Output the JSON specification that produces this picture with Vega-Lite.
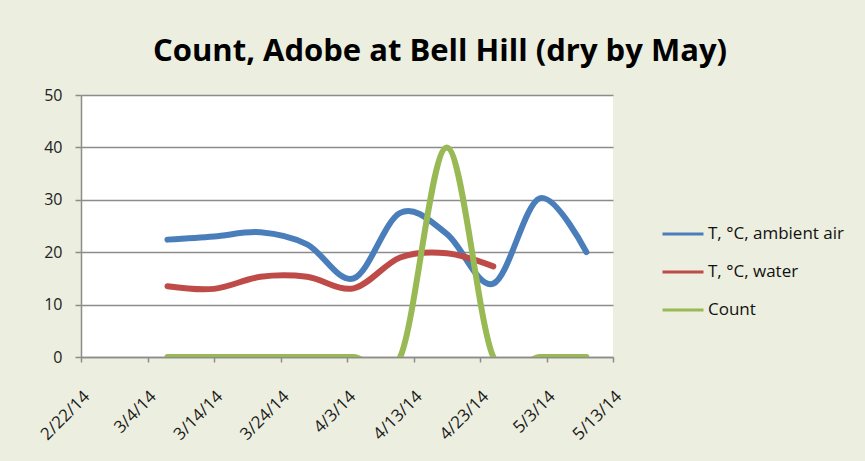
{
  "$schema": "https://vega.github.io/schema/vega-lite/v6.json",
  "width": 532,
  "height": 262,
  "autosize": {"type": "none"},
  "padding": {"left": 81, "top": 95, "right": 252, "bottom": 104},
  "background": "#ECEEDF",
  "title": {
    "text": "Count, Adobe at Bell Hill (dry by May)",
    "font": "Open Sans",
    "fontSize": 31,
    "fontWeight": "bold",
    "color": "#000000",
    "anchor": "middle",
    "dx": 93,
    "offset": 19
  },
  "data": {
    "values": [
      {"date": "2014-03-07", "series": "T, °C, ambient air", "value": 22.4},
      {"date": "2014-03-14", "series": "T, °C, ambient air", "value": 23.0},
      {"date": "2014-03-21", "series": "T, °C, ambient air", "value": 23.8},
      {"date": "2014-03-28", "series": "T, °C, ambient air", "value": 21.5},
      {"date": "2014-04-04", "series": "T, °C, ambient air", "value": 15.0},
      {"date": "2014-04-11", "series": "T, °C, ambient air", "value": 27.5},
      {"date": "2014-04-18", "series": "T, °C, ambient air", "value": 23.5},
      {"date": "2014-04-25", "series": "T, °C, ambient air", "value": 14.0},
      {"date": "2014-05-02", "series": "T, °C, ambient air", "value": 30.3},
      {"date": "2014-05-09", "series": "T, °C, ambient air", "value": 20.0},
      {"date": "2014-03-07", "series": "T, °C, water", "value": 13.5},
      {"date": "2014-03-14", "series": "T, °C, water", "value": 13.0},
      {"date": "2014-03-21", "series": "T, °C, water", "value": 15.3},
      {"date": "2014-03-28", "series": "T, °C, water", "value": 15.3},
      {"date": "2014-04-04", "series": "T, °C, water", "value": 13.1},
      {"date": "2014-04-11", "series": "T, °C, water", "value": 19.0},
      {"date": "2014-04-18", "series": "T, °C, water", "value": 19.8},
      {"date": "2014-04-25", "series": "T, °C, water", "value": 17.3},
      {"date": "2014-03-07", "series": "Count", "value": 0},
      {"date": "2014-03-14", "series": "Count", "value": 0},
      {"date": "2014-03-21", "series": "Count", "value": 0},
      {"date": "2014-03-28", "series": "Count", "value": 0},
      {"date": "2014-04-04", "series": "Count", "value": 0},
      {"date": "2014-04-11", "series": "Count", "value": 0},
      {"date": "2014-04-18", "series": "Count", "value": 40},
      {"date": "2014-04-25", "series": "Count", "value": 0},
      {"date": "2014-05-02", "series": "Count", "value": 0},
      {"date": "2014-05-09", "series": "Count", "value": 0}
    ]
  },
  "mark": {
    "type": "line",
    "interpolate": "cardinal",
    "tension": 0,
    "strokeWidth": 6,
    "strokeCap": "round",
    "strokeJoin": "round",
    "clip": true
  },
  "encoding": {
    "x": {
      "field": "date",
      "type": "temporal",
      "scale": {
        "type": "utc",
        "nice": false,
        "domain": [
          {"year": 2014, "month": 2, "date": 22, "utc": true},
          {"year": 2014, "month": 5, "date": 13, "utc": true}
        ]
      },
      "axis": {
        "title": null,
        "grid": false,
        "format": "%-m/%-d/%y",
        "values": [
          {"year": 2014, "month": 2, "date": 22, "utc": true},
          {"year": 2014, "month": 3, "date": 4, "utc": true},
          {"year": 2014, "month": 3, "date": 14, "utc": true},
          {"year": 2014, "month": 3, "date": 24, "utc": true},
          {"year": 2014, "month": 4, "date": 3, "utc": true},
          {"year": 2014, "month": 4, "date": 13, "utc": true},
          {"year": 2014, "month": 4, "date": 23, "utc": true},
          {"year": 2014, "month": 5, "date": 3, "utc": true},
          {"year": 2014, "month": 5, "date": 13, "utc": true}
        ],
        "labelAngle": -45,
        "labelFont": "Open Sans",
        "labelFontSize": 17,
        "labelColor": "#1a1a1a",
        "labelPadding": 26,
        "labelFlush": false,
        "labelOverlap": false,
        "tickSize": 5,
        "tickColor": "#8c8c8c",
        "tickWidth": 1.5,
        "domainColor": "#8c8c8c",
        "domainWidth": 1.5
      }
    },
    "y": {
      "field": "value",
      "type": "quantitative",
      "scale": {"domain": [0, 50], "nice": false},
      "axis": {
        "title": null,
        "values": [0, 10, 20, 30, 40, 50],
        "labelFont": "Open Sans",
        "labelFontSize": 16,
        "labelColor": "#222222",
        "labelPadding": 13,
        "tickSize": 6,
        "tickColor": "#8c8c8c",
        "tickWidth": 1.5,
        "domainColor": "#8c8c8c",
        "domainWidth": 1.5,
        "gridColor": "#8c8c8c",
        "gridWidth": 1.5
      }
    },
    "color": {
      "field": "series",
      "type": "nominal",
      "scale": {
        "domain": ["T, °C, ambient air", "T, °C, water", "Count"],
        "range": ["#4A7EBB", "#BE4B48", "#98B954"]
      },
      "legend": {
        "orient": "none",
        "legendX": 580,
        "legendY": 117,
        "title": null,
        "symbolType": "stroke",
        "symbolSize": 1681,
        "symbolStrokeWidth": 3,
        "labelFont": "Open Sans",
        "labelFontSize": 17,
        "labelColor": "#111111",
        "labelOffset": 3,
        "rowPadding": 8,
        "padding": 0
      }
    }
  },
  "config": {
    "view": {"fill": "#ffffff", "stroke": null}
  }
}
